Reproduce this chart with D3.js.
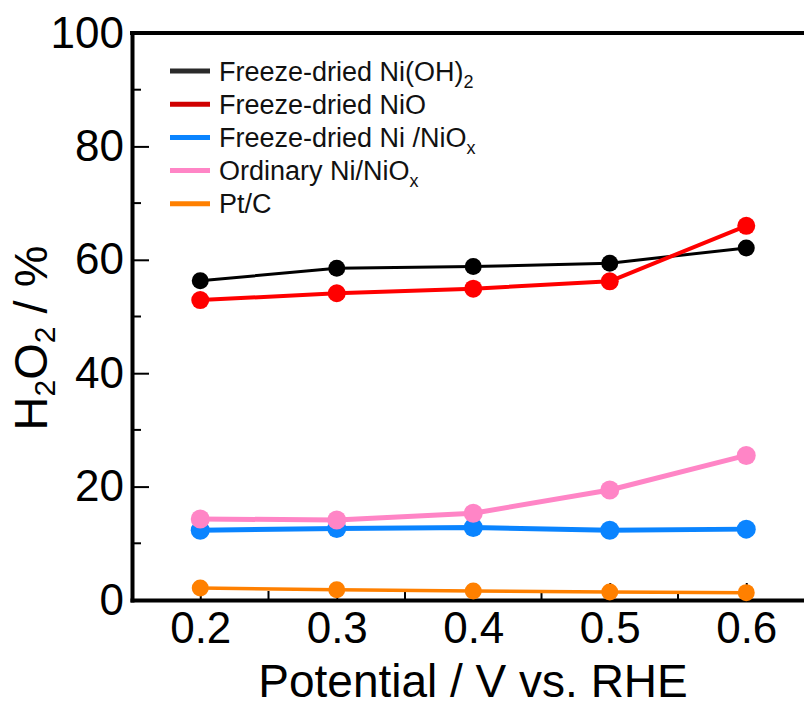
<!DOCTYPE html>
<html>
<head>
<meta charset="utf-8">
<script src="https://cdn.jsdelivr.net/npm/d3@7"></script>
<style>
  html, body { margin: 0; padding: 0; background: #fff; }
  svg { display: block; font-family: "Liberation Sans", Arial, sans-serif; }
</style>
</head>
<body>
<div id="chart"></div>
<script>
// Potential values (V vs. RHE)
const potentials = [0.2, 0.3, 0.4, 0.5, 0.6];

// H2O2 yield (%) for each catalyst
const niOH2FreezeDried = [56.3, 58.5, 58.8, 59.4, 62.1];
const niOFreezeDried   = [52.9, 54.1, 54.9, 56.2, 66.0];
const niNiOxFreezeDried = [12.3, 12.6, 12.8, 12.3, 12.5];
const niNiOxOrdinary   = [14.3, 14.1, 15.3, 19.4, 25.5];
const ptC              = [2.1, 1.8, 1.6, 1.4, 1.3];

const seriesNames = ["Freeze-dried Ni(OH)2", "Freeze-dried NiO", "Freeze-dried Ni /NiOx", "Ordinary Ni/NiOx", "Pt/C"];
const seriesColors = ["#000000", "#ff0000", "#0a84ff", "#ff85c6", "#ff8000"];
const legendColors = ["#2a2a2a", "#d00000", "#0a84ff", "#ff85c6", "#ff8000"];

const xMajorTicks = [0.2, 0.3, 0.4, 0.5, 0.6];
const xMinorTicks = [0.25, 0.35, 0.45, 0.55];
const yMajorTicks = [0, 20, 40, 60, 80, 100];
const yMinorTicks = [10, 30, 50, 70, 90];

const series = [
  { name: seriesNames[0], values: niOH2FreezeDried, color: seriesColors[0], width: 3, r: 8.5 },
  { name: seriesNames[1], values: niOFreezeDried, color: seriesColors[1], width: 4, r: 9 },
  { name: seriesNames[2], values: niNiOxFreezeDried, color: seriesColors[2], width: 5, r: 9.5 },
  { name: seriesNames[3], values: niNiOxOrdinary, color: seriesColors[3], width: 5, r: 9.5 },
  { name: seriesNames[4], values: ptC, color: seriesColors[4], width: 3.5, r: 8.5 }
];

const W = 804, H = 708;
const plotLeft = 132, plotBottom = 600, plotTop = 33;

const svg = d3.select("#chart").append("svg").attr("width", W).attr("height", H);

const x = d3.scaleLinear().domain([0.15, 0.65]).range([plotLeft, plotLeft + 682.5]);
const y = d3.scaleLinear().domain([0, 100]).range([plotBottom, plotTop]);

// minor ticks
const gMinor = svg.append("g").attr("stroke", "#000").attr("stroke-width", 2);
gMinor.selectAll("line.xm").data(xMinorTicks).join("line").attr("class", "xm")
  .attr("x1", d => x(d)).attr("x2", d => x(d))
  .attr("y1", plotBottom).attr("y2", plotBottom - 9);
gMinor.selectAll("line.ym").data(yMinorTicks).join("line").attr("class", "ym")
  .attr("y1", d => y(d)).attr("y2", d => y(d))
  .attr("x1", plotLeft).attr("x2", plotLeft + 9);

// axes
const xAxis = d3.axisBottom(x).tickValues(xMajorTicks).tickSize(-17).tickSizeOuter(0)
  .tickPadding(12).tickFormat(d3.format(".1f"));
const yAxis = d3.axisLeft(y).tickValues(yMajorTicks).tickSize(-17).tickSizeOuter(0)
  .tickPadding(8).tickFormat(d3.format("d"));

const gx = svg.append("g").attr("transform", `translate(0,${plotBottom})`).call(xAxis);
const gy = svg.append("g").attr("transform", `translate(${plotLeft},0)`).call(yAxis);

[gx, gy].forEach(g => {
  g.select(".domain").attr("stroke", "#000").attr("stroke-width", 4).attr("stroke-linecap", "square");
  g.selectAll(".tick line").attr("stroke", "#000").attr("stroke-width", 2);
  g.selectAll(".tick text").attr("fill", "#000").attr("font-size", 44)
    .attr("font-family", "'Liberation Sans', Arial, sans-serif");
});

// top frame line
svg.append("line")
  .attr("x1", plotLeft).attr("x2", x(0.65)).attr("y1", plotTop).attr("y2", plotTop)
  .attr("stroke", "#000").attr("stroke-width", 4).attr("stroke-linecap", "square");

// data lines and markers
const line = d3.line().x((d, i) => x(potentials[i])).y(d => y(d));
series.forEach(s => {
  const g = svg.append("g");
  g.append("path").datum(s.values).attr("d", line)
    .attr("fill", "none").attr("stroke", s.color).attr("stroke-width", s.width)
    .attr("stroke-linejoin", "round");
  g.selectAll("circle").data(s.values).join("circle")
    .attr("cx", (d, i) => x(potentials[i])).attr("cy", d => y(d)).attr("r", s.r)
    .attr("fill", s.color);
});

// legend
const legendRows = [
  { main: "Freeze-dried Ni(OH)", sub: "2" },
  { main: "Freeze-dried NiO", sub: "" },
  { main: "Freeze-dried Ni /NiO", sub: "x" },
  { main: "Ordinary Ni/NiO", sub: "x" },
  { main: "Pt/C", sub: "" }
];
const legend = svg.append("g");
legendRows.forEach((row, i) => {
  const ly = 71 + i * 33.2;
  legend.append("line")
    .attr("x1", 170).attr("x2", 210).attr("y1", ly).attr("y2", ly)
    .attr("stroke", legendColors[i]).attr("stroke-width", 5);
  const t = legend.append("text")
    .attr("x", 219).attr("y", ly + 9.5)
    .attr("font-size", 27).attr("fill", "#111");
  t.append("tspan").text(row.main);
  if (row.sub) {
    t.append("tspan").attr("font-size", 18).attr("dy", 7).text(row.sub);
  }
});

// axis titles
svg.append("text")
  .attr("x", 473).attr("y", 697)
  .attr("text-anchor", "middle").attr("font-size", 46).attr("fill", "#000")
  .text("Potential / V vs. RHE");

const yt = svg.append("text")
  .attr("transform", "translate(47,338) rotate(-90)")
  .attr("text-anchor", "middle").attr("font-size", 47).attr("fill", "#000");
yt.append("tspan").text("H");
yt.append("tspan").attr("font-size", 30).attr("dy", 8).text("2");
yt.append("tspan").attr("dy", -8).text("O");
yt.append("tspan").attr("font-size", 30).attr("dy", 8).text("2");
yt.append("tspan").attr("dy", -8).text(" / %");
</script>
</body>
</html>
